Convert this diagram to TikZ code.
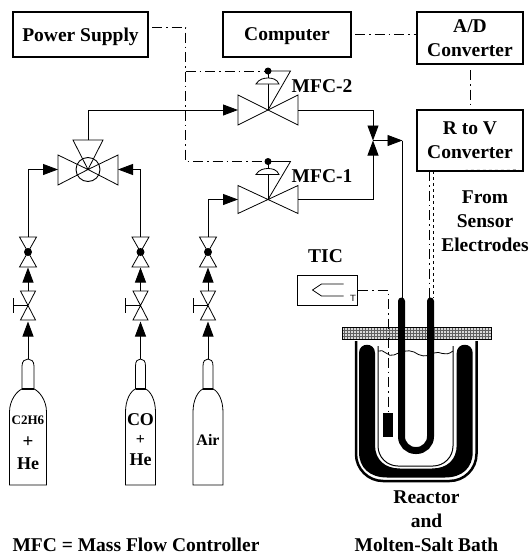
\documentclass[tikz,border=0pt]{standalone}
\usepackage{fontspec}
\setmainfont{Liberation Serif}
\usetikzlibrary{positioning,arrows.meta}
\begin{document}
\begin{tikzpicture}[x=1pt,y=-1pt,>=latex,
  lab/.style={font=\fontsize{19.5}{24}\selectfont\bfseries,align=center,inner sep=0pt},
  box/.style={draw,line width=1.2pt,inner sep=0pt,lab},
  pipe/.style={line width=0.9pt},
  flow/.style={pipe,-{Triangle[length=15pt,width=11pt]}},
  signal/.style={line width=0.8pt,dash pattern=on 10pt off 4pt on 1.5pt off 4pt},
  thinpart/.style={line width=0.8pt},
  dot/.style={circle,fill=black,inner sep=0pt,minimum size=7pt}]
\useasboundingbox (0,0) rectangle (529,555);
% instruments
\node[box,text depth=0pt,minimum width=135pt,minimum height=45pt] (supply) at (80.5,34.5) {Power Supply};
\node[box,text depth=0pt,minimum width=128pt,minimum height=45pt] (computer) at (287,34.5) {Computer};
\node[box,minimum width=106pt,minimum height=52pt] (adc) at (470,38) {A/D\\Converter};
\node[box,minimum width=106pt,minimum height=61pt] (rtov) at (470,140.5) {R to V\\Converter};
% signal lines
\coordinate (supplyend) at (152,27);
\coordinate (corner) at (185.5,27);
\coordinate (compend) at (355,34.5);
\coordinate (adcdown) at (470,70);
\coordinate (teetwo) at (185.5,71);
\coordinate (cornerone) at (185.5,161.5);
\node[dot] (dottwo) at (268,71) {};
\node[dot] (dotone) at (268,161.5) {};
\draw[signal] (supplyend) -- (corner) -- (cornerone) -- (dotone);
\draw[signal] (teetwo) -- (dottwo);
\draw[signal] (compend) -- (adc.west |- compend);
\draw[signal] (adcdown) -- (rtov.north);
% flow control valves
\foreach \n/\y/\h/\d in {two/110/15/71,one/199.5/14/161.5}{
  \coordinate (mfc\n) at (268,\y);
  \coordinate (mfc\n-in) at (238,\y);
  \coordinate (mfc\n-out) at (298,\y);
  \draw[thinpart,fill=white] (mfc\n) -- (238,\y-\h) -- (238,\y+\h) -- cycle;
  \draw[thinpart,fill=white] (mfc\n) -- (298,\y-\h) -- (298,\y+\h) -- cycle;
  \draw[thinpart] (268,\d) -- (290.5,\d) -- (mfc\n);
  \draw[thinpart] (268,\d) -- (mfc\n);
  \draw[thinpart,fill=white] (256,\d+13) .. controls (259,\d+8) and (264,\d+7) .. (268,\d+7)
    .. controls (272,\d+7) and (277,\d+8) .. (279,\d+13) -- cycle;
}
\node[lab] (mfctwolab) at (322,86) {MFC-2};
\node[lab] (mfconelab) at (322,176) {MFC-1};
% selector valve
\coordinate (sel) at (88,169.5);
\coordinate (seltop) at (88,140);
\coordinate (selleft) at (58,169.5);
\coordinate (selright) at (118,169.5);
\draw[thinpart] (sel) -- (73,140) -- (103,140) -- cycle;
\draw[thinpart] (sel) -- (58,155) -- (58,185) -- cycle;
\draw[thinpart] (sel) -- (118,155) -- (118,185) -- cycle;
\node[circle,draw,line width=0.9pt,minimum size=24pt,inner sep=0pt] (selball) at (sel) {};
% cylinders, each with its two valves
\foreach \n/\x/\w/\k in {ch/28/18.5/6,co/140.5/15/5,air/208/15/5}{
  \coordinate (\n-neck) at (\x,359);
  \coordinate (\n-low) at (\x,321.5);
  \coordinate (\n-lowtop) at (\x,291);
  \coordinate (\n-up) at (\x,267.5);
  \coordinate (\n-uptop) at (\x,237);
  \draw[thinpart] (\x-\k,389) -- (\x-\k,366) .. controls (\x-\k,361) and (\x-3,359) .. (\x,359)
    .. controls (\x+3,359) and (\x+\k,361) .. (\x+\k,366) -- (\x+\k,389);
  \draw[thinpart] (\x-\w,485) -- (\x-\w,412) .. controls (\x-\w,400) and (\x-\k-5,391) .. (\x-\k,389)
    -- (\x+\k,389) .. controls (\x+\k+5,391) and (\x+\w,400) .. (\x+\w,412) -- (\x+\w,485) -- cycle;
  \draw[pipe,line width=1.3pt] (\x-\k,389) -- (\x+\k,389);
  % regulating valve with hand wheel
  \draw[thinpart] (\x-7.5,291) -- (\x+7.5,291) -- (\x-7.5,320) -- (\x+7.5,320) -- cycle;
  \draw[thinpart] (\x,305.5) -- (\x-15,305.5) (\x-15,298) -- (\x-15,313);
  % shut-off valve
  \draw[thinpart] (\x-8.5,237) -- (\x+8.5,237) -- (\x-8.5,267) -- (\x+8.5,267) -- cycle;
  \node[dot,minimum size=8pt] (\n-ball) at (\x,252) {};
  \draw[flow] (\n-neck) -- (\n-low);
  \draw[flow] (\n-lowtop) -- (\n-up);
}
\node[lab,font=\fontsize{13}{15}\selectfont\bfseries] (chgas) at (28,420) {C2H6};
\node[lab,font=\fontsize{19}{19}\selectfont\bfseries] (chplus) at (28,442) {+};
\node[lab,font=\fontsize{18}{19}\selectfont\bfseries] (chhe) at (28,464) {He};
\node[lab,font=\fontsize{18}{19}\selectfont\bfseries] (cogas) at (140.5,420) {CO};
\node[lab,font=\fontsize{16}{19}\selectfont\bfseries] (coplus) at (140.5,439.5) {+};
\node[lab,font=\fontsize{18}{19}\selectfont\bfseries] (cohe) at (140.5,460) {He};
\node[lab,font=\fontsize{16}{19}\selectfont\bfseries] (airgas) at (208,440) {Air};
% gas lines
\coordinate (upperbend) at (88,110);
\coordinate (chbend) at (28,169.5);
\coordinate (cobend) at (140.5,169.5);
\coordinate (airbend) at (208,199.5);
\coordinate (mixer) at (373,140.5);
\coordinate (mixtip) at (402.5,140.5);
\coordinate (tubein) at (402.5,298);
\draw[flow] (seltop) -- (upperbend) -- (mfctwo-in);
\draw[flow] (ch-uptop) -- (chbend) -- (selleft);
\draw[flow] (co-uptop) -- (cobend) -- (selright);
\draw[flow] (air-uptop) -- (airbend) -- (mfcone-in);
\draw[flow] (mfctwo-out) -| (mixer);
\draw[flow] (mfcone-out) -| (mixer);
\draw[flow] (mixer) -- (mixtip);
\draw[pipe] (mixtip) -- (tubein);
% reactor
\draw[line width=2.5pt,rounded corners=27pt] (356,341) -- (356,481) -- (476.5,481) -- (476.5,341);
\fill (359,353) .. controls (359,342) and (375,342) .. (375,353) -- (375,445)
  .. controls (375,460) and (385,468.5) .. (400,468.5) -- (432,468.5)
  .. controls (447,468.5) and (456.7,460) .. (456.7,445) -- (456.7,353)
  .. controls (456.7,342) and (472.7,342) .. (472.7,353) -- (472.7,452)
  .. controls (472.7,468) and (462,477.5) .. (445,477.5) -- (387,477.5)
  .. controls (370,477.5) and (359,468) .. (359,452) -- cycle;
\draw[line width=1pt,rounded corners=20pt] (378,346) -- (378,466) -- (453,466) -- (453,346);
\draw[line width=7pt,line cap=round,rounded corners=14pt] (401.5,301) -- (401.5,450.5) -- (430.5,450.5) -- (430.5,301);
\draw[thinpart] (378,351) .. controls (384,348) and (388,358) .. (394,355) .. controls (400,352) and (408,349) .. (414,352)
  .. controls (420,356) and (426,358) .. (434,353) .. controls (440,350) and (444,358) .. (453,351);
\node[fill=black,minimum width=10.5pt,minimum height=24pt,inner sep=0pt] (sensor) at (388,425) {};
% cover plate
\node[draw,fill=gray!30,line width=0.8pt,minimum width=149pt,minimum height=12pt,inner sep=0pt] (plate) at (416.5,333) {};
\foreach \i in {0,...,48}{
  \draw[gray!75!black,line width=0.5pt] (344+\i*3,328) -- (344+\i*3,338.5);
}
\foreach \y in {330,333,336}{
  \draw[gray!75!black,line width=0.5pt] (343,\y) -- (490.5,\y);
}
\draw[line width=7pt] (401.5,327) -- (401.5,339) (430.5,327) -- (430.5,339);
% temperature controller
\node[draw,thinpart,minimum width=60.5pt,minimum height=30pt,inner sep=0pt] (tic) at (327.5,290) {};
\draw[thinpart] (343.5,284) -- (321.5,284) -- (312.5,290) -- (321.5,296) -- (343.5,296);
\node[inner sep=0pt,font=\sffamily\fontsize{9}{9}\selectfont] (ticT) at (353,298) {T};
\node[lab] (ticlab) at (325.5,256) {TIC};
\coordinate (ticbend) at (388,290);
\draw[signal] (tic.east) -- (ticbend) -- (sensor.north);
% electrode leads
\coordinate (leadtop) at (429,171);
\coordinate (leadbot) at (429,298);
\coordinate (shieldtop) at (433.5,171);
\coordinate (shieldbot) at (433.5,298);
\coordinate (shieldend) at (519,170.5);
\draw[signal] (leadtop) -- (leadbot);
\draw[line width=0.8pt,dashed] (shieldtop) -- (shieldbot);
\draw[line width=1.6pt,dashed] (leadtop) -- (shieldend);
% captions
\node[lab] (fromlab) at (485,221.5) {From\\Sensor\\Electrodes};
\node[lab] (reactorlab) at (426.5,521.5) {Reactor\\and\\Molten-Salt Bath};
\node[lab] (mfclab) at (136,545) {MFC = Mass Flow Controller};
\end{tikzpicture}
\end{document}
